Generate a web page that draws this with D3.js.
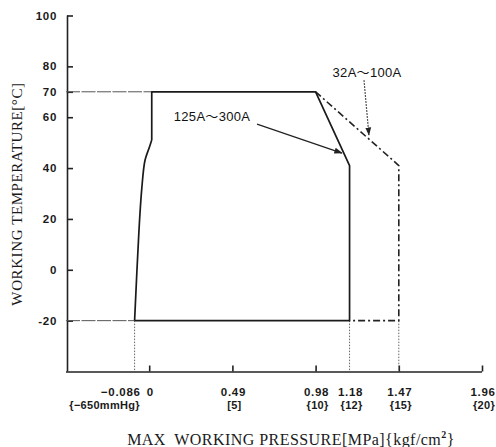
<!DOCTYPE html>
<html><head><meta charset="utf-8">
<script src="https://cdn.jsdelivr.net/npm/d3@7/dist/d3.min.js"></script>
<style>
body{margin:0;background:#fff;}
svg{display:block;}
.tick-lbl{font-family:"Liberation Sans",Arial,sans-serif;font-weight:bold;font-size:11.5px;fill:#1a1a1a;letter-spacing:0.7px;}
.sub-lbl{font-family:"Liberation Sans",Arial,sans-serif;font-weight:bold;font-size:11px;fill:#1a1a1a;letter-spacing:0.3px;}
.ann{font-family:"Liberation Sans",Arial,"Noto Sans CJK JP",sans-serif;font-size:13px;fill:#111;letter-spacing:0.3px;}
.title{font-family:"Liberation Serif","Times New Roman",serif;fill:#1a1a1a;}
</style></head>
<body>
<script>
// ---- data ----
const yTicks = [-20, 0, 20, 40, 60, 70, 80, 100];
const yTickLabels = ["-20", "0", "20", "40", "60", "70", "80", "100"];
const xTickMarks = [0, 0.49, 0.98, 1.47, 1.96];
const xTicks = [-0.086, 0, 0.49, 0.98, 1.18, 1.47, 1.96];
const xTickLabels = ["\u22120.086", "0", "0.49", "0.98", "1.18", "1.47", "1.96"];
const xTickSubLabels = ["{\u2212650mmHg}", "", "[5]", "{10}", "{12}", "{15}", "{20}"];
// 125A~300A envelope (pressure MPa, temperature °C)
const seriesLargeOutline = [[-0.086, -20], [1.18, -20], [1.18, 41], [0.98, 70], [0.015, 70], [0.015, 51]];
const seriesLargeCurve = [[0.015, 51], [0.0, 48], [-0.025, 43], [-0.044, 31.7], [-0.06, 15.8], [-0.086, -20]];
// 32A~100A envelope
const seriesSmall = [[0.98, 70], [1.47, 41], [1.47, -20], [1.18, -20]];
// reference lines
const refH = [[[-0.49, 70], [0.015, 70]], [[-0.49, -20], [-0.086, -20]]];
const refV = [-0.086, 1.18, 1.47];
const labels = [
  {text: "125A\uFF5E300A", x: 0.37, y: 60.5, ax0: [0.635, 57.3], ax1: [1.135, 45.9], dotted: false},
  {text: "32A\uFF5E100A", x: 1.283, y: 77.7, ax0: [1.265, 74.6], ax1: [1.294, 53], dotted: true}
];

// ---- chart ----
const W = 496, H = 447;
const svg = d3.select("body").append("svg").attr("width", W).attr("height", H);
const x = d3.scaleLinear().domain([-0.49, 1.96]).range([66, 482]);
const y = d3.scaleLinear().domain([-40, 100]).range([371.5, 15.5]);

const defs = svg.append("defs");
defs.append("marker").attr("id", "arr").attr("viewBox", "0 0 10 10").attr("refX", 9).attr("refY", 5)
  .attr("markerWidth", 7).attr("markerHeight", 7).attr("orient", "auto")
  .append("path").attr("d", "M0,1.5 L10,5 L0,8.5 Z").attr("fill", "#222");

const line = d3.line().x(d => x(d[0])).y(d => y(d[1]));

// axes
const yAxis = d3.axisRight(y).tickValues(yTicks).tickSize(6).tickFormat("");
const gy = svg.append("g").attr("transform", `translate(${x(-0.49) + 1},0)`).call(yAxis);
gy.select(".domain").attr("d", `M0.5,${y(100)}V${y(-40)}`);
gy.selectAll("path,line").attr("stroke", "#222").attr("stroke-width", 1.6);

const xAxis = d3.axisTop(x).tickValues(xTickMarks).tickSize(6).tickFormat("");
const gx = svg.append("g").attr("transform", `translate(0,${y(-40)})`).call(xAxis);
gx.select(".domain").attr("d", `M${x(-0.49)},0.5H${x(1.96)}`);
gx.selectAll("path,line").attr("stroke", "#222").attr("stroke-width", 1.6);

// y tick labels
svg.append("g").selectAll("text").data(yTicks).join("text")
  .attr("class", "tick-lbl").attr("x", 57).attr("y", d => y(d)).attr("dy", "0.36em")
  .attr("text-anchor", "end").text((d, i) => yTickLabels[i]);

// x tick labels
const xl = svg.append("g");
xTicks.forEach((v, i) => {
  let anchor = "middle", dx = 1;
  if (v === -0.086) { anchor = "end"; dx = 6; }
  xl.append("text").attr("class", "tick-lbl").attr("x", x(v) + dx).attr("y", 396)
    .attr("text-anchor", anchor).text(xTickLabels[i]);
  if (xTickSubLabels[i]) {
    let sdx = 2;
    if (v === -0.086) { sdx = -30; }
    xl.append("text").attr("class", "sub-lbl").attr("x", x(v) + sdx).attr("y", 409)
      .attr("text-anchor", "middle").text(xTickSubLabels[i]);
  }
});

// reference lines
refH.forEach(seg => svg.append("path").attr("d", line(seg)).attr("fill", "none")
  .attr("stroke", "#555").attr("stroke-width", 1).attr("stroke-dasharray", "14,1.5"));
refV.forEach(v => svg.append("path").attr("d", line([[v, -20], [v, -40]])).attr("fill", "none")
  .attr("stroke", "#666").attr("stroke-width", 1).attr("stroke-dasharray", "1.5,1.5"));

// 32A~100A dash-dot
svg.append("path").attr("d", line(seriesSmall)).attr("fill", "none")
  .attr("stroke", "#222").attr("stroke-width", 1.6).attr("stroke-dasharray", "7,3,2,3");

// 125A~300A solid
svg.append("path").attr("d", line(seriesLargeOutline)).attr("fill", "none")
  .attr("stroke", "#1a1a1a").attr("stroke-width", 1.7).attr("stroke-linejoin", "round");
svg.append("path").attr("d", d3.line().x(d => x(d[0])).y(d => y(d[1])).curve(d3.curveCatmullRom)(seriesLargeCurve))
  .attr("fill", "none").attr("stroke", "#1a1a1a").attr("stroke-width", 1.7);

// annotations
labels.forEach(l => {
  svg.append("text").attr("class", "ann").attr("x", x(l.x)).attr("y", y(l.y)).attr("dy", "0.36em")
    .attr("text-anchor", "middle").text(l.text);
  svg.append("path").attr("d", line([l.ax0, l.ax1])).attr("fill", "none")
    .attr("stroke", l.dotted ? "#555" : "#222").attr("stroke-width", 1.2)
    .attr("stroke-dasharray", l.dotted ? "2,1" : null).attr("marker-end", "url(#arr)");
});

// axis titles
const xt = svg.append("text").attr("class", "title").attr("font-size", 16).attr("letter-spacing", 0.45)
  .attr("x", 291).attr("y", 445).attr("text-anchor", "middle");
xt.append("tspan").text("MAX\u2002WORKING PRESSURE[MPa]{kgf/cm");
xt.append("tspan").attr("dy", -7).attr("font-size", 10).attr("font-weight", "bold").text("2");
xt.append("tspan").attr("dy", 7).text("}");

svg.append("text").attr("class", "title").attr("font-size", 15).attr("letter-spacing", 0.6)
  .attr("transform", `translate(22,194) rotate(-90)`)
  .attr("text-anchor", "middle").text("WORKING TEMPERATURE[\u00B0C]");
</script>
</body></html>
